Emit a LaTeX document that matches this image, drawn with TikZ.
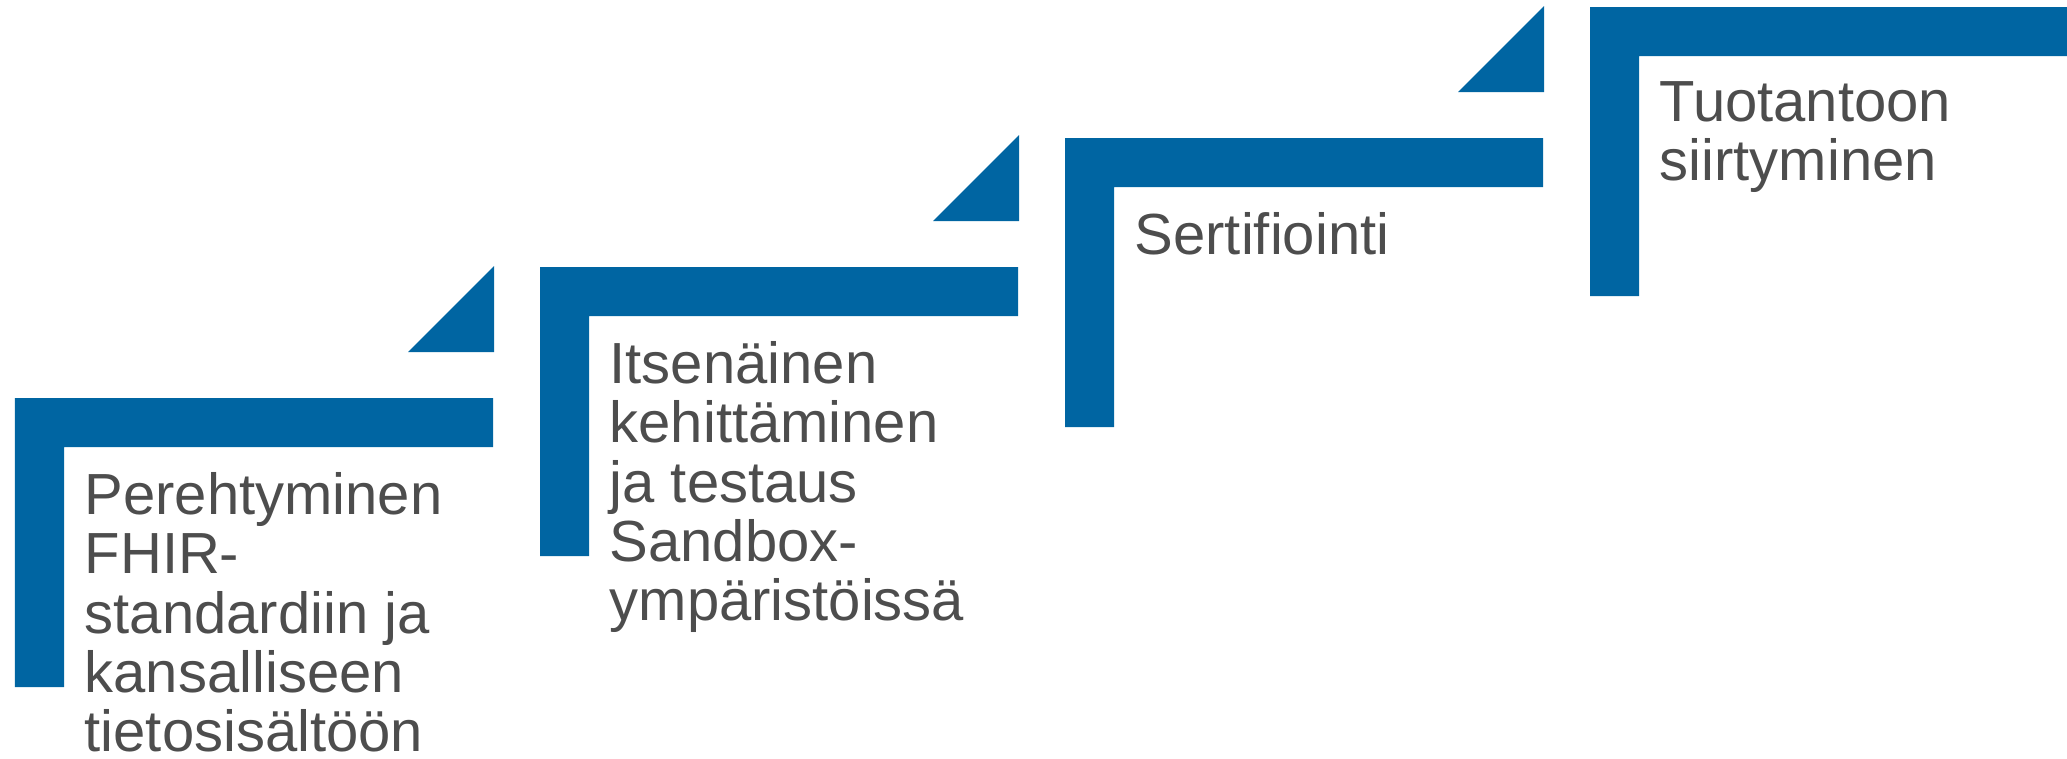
\documentclass[tikz,border=0pt]{standalone}
\usepackage{fontspec}
\setmainfont{Liberation Sans}
\usepackage{xcolor}
\usepackage{tikz}
\usetikzlibrary{positioning}
\definecolor{stepblue}{RGB}{0,101,162}
\definecolor{stepgray}{RGB}{77,77,77}
\tikzstyle{stepbar} = [fill=stepblue, draw=none]
\tikzstyle{steptext} = [inner sep=0pt, 
align=left, 
text=stepgray, 
font=\fontsize{16.5}{16.9}\selectfont]

\begin{document}
\begin{tikzpicture}
\useasboundingbox (0,0) rectangle (20.67,7.58);

% Corners
\coordinate (s1) at (0.15,3.60);
\coordinate (s2) at (5.40,4.91);
\coordinate (s3) at (10.65,6.20);
\coordinate (s4) at (15.90,7.51);

% Steps
\fill [stepbar] (s1) -- ++(4.78,0) -- ++(0,-0.49) -- ++(-4.29,0) -- ++(0,-2.40) -- ++(-0.49,0) -- cycle;
\fill [stepbar] ([shift={(4.79,0.46)}]s1) -- ++(0,0.86) -- ++(-0.86,-0.86) -- cycle;
\fill [stepbar] (s2) -- ++(4.78,0) -- ++(0,-0.49) -- ++(-4.29,0) -- ++(0,-2.40) -- ++(-0.49,0) -- cycle;
\fill [stepbar] ([shift={(4.79,0.46)}]s2) -- ++(0,0.86) -- ++(-0.86,-0.86) -- cycle;
\fill [stepbar] (s3) -- ++(4.78,0) -- ++(0,-0.49) -- ++(-4.29,0) -- ++(0,-2.40) -- ++(-0.49,0) -- cycle;
\fill [stepbar] ([shift={(4.79,0.46)}]s3) -- ++(0,0.86) -- ++(-0.86,-0.86) -- cycle;
\fill [stepbar] (s4) -- ++(4.78,0) -- ++(0,-0.49) -- ++(-4.29,0) -- ++(0,-2.40) -- ++(-0.49,0) -- cycle;

% Nodes
\node (perehtyminen) [steptext, below right=0.735cm and 0.69cm of s1] {Perehtyminen\\FHIR-\\standardiin ja\\kansalliseen\\tietosisältöön};
\node (kehittaminen) [steptext, below right=0.735cm and 0.69cm of s2] {Itsenäinen\\kehittäminen\\ja testaus\\Sandbox-\\ympäristöissä};
\node (sertifiointi) [steptext, below right=0.735cm and 0.69cm of s3] {Sertifiointi};
\node (tuotantoon) [steptext, below right=0.735cm and 0.69cm of s4] {Tuotantoon\\siirtyminen};

\end{tikzpicture}
\end{document}
